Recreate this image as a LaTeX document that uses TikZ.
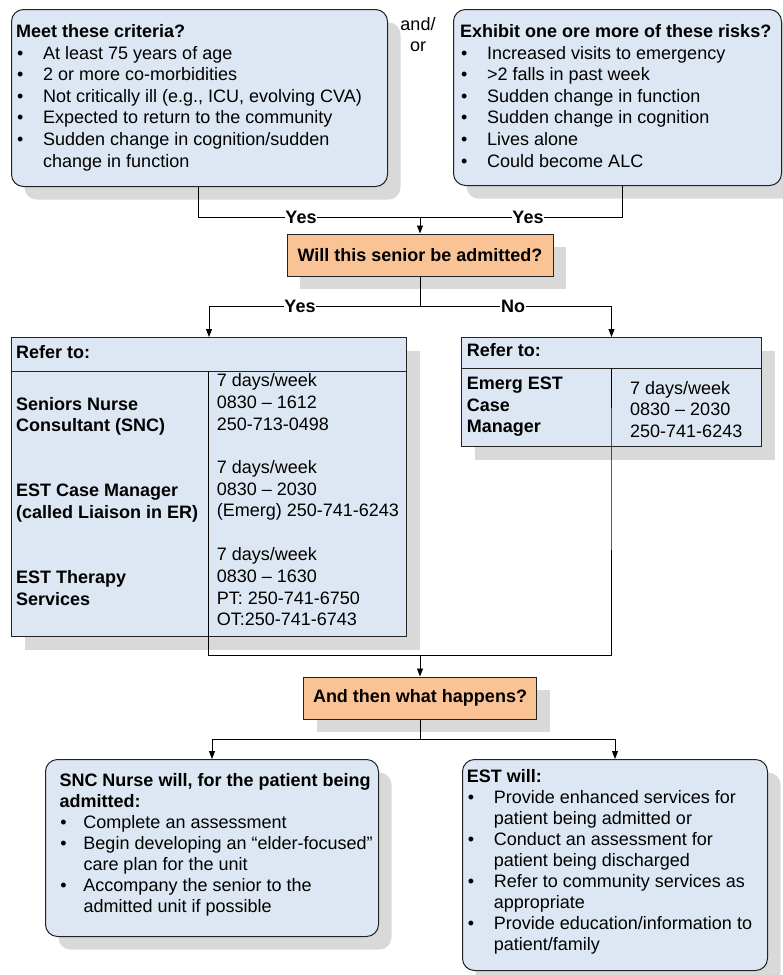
\documentclass[tikz,border=0pt]{standalone}
\usepackage{fontspec}
\setmainfont{Liberation Sans}
\usetikzlibrary{arrows.meta,shadows}
\definecolor{boxfill}{RGB}{221,231,243}
\definecolor{peach}{RGB}{250,195,150}
\definecolor{shade}{RGB}{217,217,217}
\definecolor{edge}{RGB}{35,35,35}
\newcommand{\bli}[1][27pt]{\makebox[#1][l]{\hspace{1pt}\textbullet}}
\newcommand{\blc}[1][27pt]{\hspace*{#1}}
\newcommand{\stt}{\rule{0pt}{14pt}}
\begin{document}
\begin{tikzpicture}[x=1pt,y=-1pt,
  every node/.style={font=\fontsize{18}{21.6}\selectfont},
  sh/.style={drop shadow={shadow xshift=13pt,shadow yshift=-13pt,fill=shade,opacity=1}},
  rbox/.style={sh,draw=edge,line width=1pt,fill=boxfill,rounded corners=12pt,anchor=north west,inner sep=0pt},
  tbox/.style={sh,draw=edge,line width=1pt,fill=boxfill,anchor=north west,inner sep=0pt},
  qbox/.style={sh,draw=edge,line width=1pt,fill=peach,inner sep=0pt,font=\fontsize{18}{21.6}\selectfont\bfseries},
  txt/.style={anchor=north west,align=left,inner sep=0pt},
  txtb/.style={txt,font=\fontsize{18}{21}\selectfont},
  conn/.style={line width=0.9pt,black},
  arr/.style={conn,-{Triangle[length=8pt,width=6pt]}},
  lbl/.style={fill=white,inner sep=0.6pt,font=\fontsize{18}{21.6}\selectfont\bfseries},
  grid/.style={draw=edge,line width=1pt}
]
\useasboundingbox[fill=white] (0,0) rectangle (783,975);

% ---------- top boxes ----------
\node[rbox,minimum width=376pt,minimum height=177pt] (b1) at (11,9) {};
\node[rbox,minimum width=328pt,minimum height=176pt] (b2) at (453,9) {};
\node[txt] (b1t) at (16,23.3) {\stt\textbf{Meet these criteria?}\\
\bli At least 75 years of age\\
\bli 2 or more co-morbidities\\
\bli Not critically ill (e.g., ICU, evolving CVA)\\
\bli Expected to return to the community\\
\bli Sudden change in cognition/sudden\\
\blc change in function};
\node[txt] (b2t) at (460,23.3) {\stt\textbf{Exhibit one ore more of these risks?}\\
\bli Increased visits to emergency\\
\bli >2 falls in past week\\
\bli Sudden change in function\\
\bli Sudden change in cognition\\
\bli Lives alone\\
\bli Could become ALC};
\node[anchor=north,align=center,inner sep=0pt] (andor) at (418,16) {\stt and/\\or};

% ---------- question 1 ----------
\node[qbox,minimum width=266pt,minimum height=42pt] (q1) at (420,255) {Will this senior be admitted?};

\coordinate (x1) at (198,0);
\coordinate (x2) at (622,0);
\coordinate (j1) at (420,217);
\draw[conn] (b1.south -| x1) |- (j1);
\draw[conn] (b2.south -| x2) |- (j1);
\draw[arr] (j1) -- (q1.north);
\node[lbl] (y1) at (301,217) {Yes};
\node[lbl] (y2) at (528,217) {Yes};

% ---------- tables ----------
\node[tbox,minimum width=395pt,minimum height=299pt] (t1) at (11,337) {};
\node[tbox,minimum width=300pt,minimum height=109pt] (t2) at (461,337) {};
\draw[grid] (11,371) -- (406,371);
\draw[grid] (461,368) -- (761,368);
\coordinate (d1) at (208.5,371);
\coordinate (d2) at (611,368);

\node[txt] (t1h) at (16,344.3) {\stt\textbf{Refer to:}};
\node[txt] (t1a) at (16,396) {\stt\textbf{Seniors Nurse}\\\textbf{Consultant (SNC)}};
\node[txt] (t1b) at (16,482.7) {\stt\textbf{EST Case Manager}\\\textbf{(called Liaison in ER)}};
\node[txt] (t1c) at (16,569.3) {\stt\textbf{EST Therapy}\\\textbf{Services}};
\node[txt] (t1d) at (216.7,372.7) {\stt 7 days/week\\0830 – 1612\\250-713-0498};
\node[txt] (t1e) at (216.7,459.3) {\stt 7 days/week\\0830 – 2030\\(Emerg) 250-741-6243};
\node[txt] (t1f) at (216.7,546.7) {\stt 7 days/week\\0830 – 1630\\PT: 250-741-6750\\OT:250-741-6743};

\node[txt] (t2h) at (466.7,342.7) {\stt\textbf{Refer to:}};
\node[txt] (t2a) at (466.7,375.3) {\stt\textbf{Emerg EST}\\\textbf{Case}\\\textbf{Manager}};
\node[txt] (t2b) at (630,380) {\stt 7 days/week\\0830 – 2030\\250-741-6243};

\coordinate (j3) at (420,306);
\draw[conn] (q1.south) -- (j3);
\draw[arr] (j3) -| (t1.north);
\draw[arr] (j3) -| (t2.north);
\node[lbl] (y3) at (300,306) {Yes};
\node[lbl] (n1) at (513,306) {No};

% ---------- question 2 ----------
\node[qbox,minimum width=233pt,minimum height=42pt] (q2) at (420,698) {And then what happens?};
\coordinate (j2) at (420,655);
\draw[conn] (d1) -- (t1.south -| d1) |- (j2);
\draw[conn] (d2) -- (t2.south -| d2) |- (j2);
\draw[arr] (j2) -- (q2.north);

% ---------- bottom boxes ----------
\node[rbox,minimum width=333pt,minimum height=177pt] (b3) at (45,759) {};
\node[rbox,minimum width=305pt,minimum height=211pt] (b4) at (462,759) {};
\node[txtb] (b3t) at (59.3,772.7) {\stt\textbf{SNC Nurse will, for the patient being}\\
\textbf{admitted:}\\
\bli[19pt] Complete an assessment\\
\bli[19pt] Begin developing an “elder-focused”\\
\blc[19pt] care plan for the unit\\
\bli[19pt] Accompany the senior to the\\
\blc[19pt] admitted unit if possible};
\node[txtb] (b4t) at (466.7,768.7) {\stt\textbf{EST will:}\\
\bli Provide enhanced services for\\
\blc patient being admitted or\\
\bli Conduct an assessment for\\
\blc patient being discharged\\
\bli Refer to community services as\\
\blc appropriate\\
\bli Provide education/information to\\
\blc patient/family};

\coordinate (j4) at (420,739);
\draw[conn] (q2.south) -- (j4);
\draw[arr] (j4) -| (b3.north);
\draw[arr] (j4) -| (b4.north);
\end{tikzpicture}
\end{document}
